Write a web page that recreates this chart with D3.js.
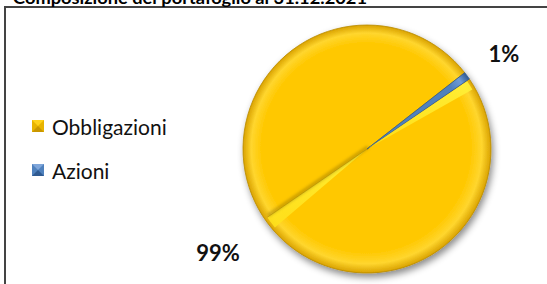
<!DOCTYPE html>
<html>
<head>
<meta charset="utf-8">
<script src="https://cdn.jsdelivr.net/npm/d3@7"></script>
<style>
  body { margin: 0; background: #fff; }
  svg { display: block; }
</style>
</head>
<body>
<div id="chart"></div>
<script>
const title = "Composizione del portafoglio al 31.12.2021";
const categories = ["Obbligazioni", "Azioni"];
const values = [99, 1];
const percentLabels = ["99%", "1%"];

const W = 547, H = 284;
const cx = 367, cy = 149, R = 124;
const firstAngle = 55.6 * Math.PI / 180;   // Excel "angle of first slice"

const svg = d3.select("#chart").append("svg")
    .attr("width", W).attr("height", H);

const defs = svg.append("defs");

// soft drop shadow under the pie
const shadow = defs.append("filter").attr("id", "shadow")
    .attr("x", "-20%").attr("y", "-20%").attr("width", "140%").attr("height", "140%");
shadow.append("feDropShadow")
    .attr("dx", 2).attr("dy", 4).attr("stdDeviation", 3.5)
    .attr("flood-color", "#000").attr("flood-opacity", 0.45);

const blur = defs.append("filter").attr("id", "blur");
blur.append("feGaussianBlur").attr("stdDeviation", 1.6);

// bevel-like radial gradients (coordinates local to the pie group)
function bevel(id, inner, rim, edge) {
    const g = defs.append("radialGradient").attr("id", id)
        .attr("gradientUnits", "userSpaceOnUse")
        .attr("cx", 0).attr("cy", 0).attr("r", R)
        .attr("fx", -6).attr("fy", -8);
    g.append("stop").attr("offset", "0%").attr("stop-color", inner);
    g.append("stop").attr("offset", "84%").attr("stop-color", inner);
    g.append("stop").attr("offset", "93%").attr("stop-color", rim);
    g.append("stop").attr("offset", "100%").attr("stop-color", edge);
}
bevel("gradYellow", "#FFC800", "#FFD62E", "#D9A200");
bevel("gradBlue", "#4F81BD", "#6E9BD6", "#2F5A91");

const band = defs.append("linearGradient").attr("id", "bandGrad")
    .attr("x1", "0").attr("y1", "0").attr("x2", "0").attr("y2", "1");
band.append("stop").attr("offset", "0%").attr("stop-color", "#FFF23A");
band.append("stop").attr("offset", "100%").attr("stop-color", "#FFE01A");

const colors = d3.scaleOrdinal().domain(categories).range(["url(#gradYellow)", "url(#gradBlue)"]);
const legendColors = d3.scaleOrdinal().domain(categories).range([["#E8B400", "#C99700", "#FFD21A"], ["#4F81BD", "#2F5A91", "#7FA6DA"]]);

// border frame (only top/left visible in the crop)
svg.append("path")
    .attr("d", `M5,${H + 2} V7 H${W + 2}`)
    .attr("fill", "none").attr("stroke", "#444").attr("stroke-width", 2);

// title, mostly cropped by the top edge as in the source
svg.append("text")
    .attr("x", 13).attr("y", 4)
    .attr("font-family", "Lato, sans-serif").attr("font-weight", "bold")
    .attr("font-size", 17)
    .attr("textLength", 354).attr("lengthAdjust", "spacingAndGlyphs")
    .text(title);

const pie = d3.pie().sort(null).value(d => d)
    .startAngle(firstAngle).endAngle(firstAngle + 2 * Math.PI);
const arcs = pie(values);
const arc = d3.arc().innerRadius(0).outerRadius(R);

const gPie = svg.append("g").attr("transform", `translate(${cx},${cy})`);

gPie.append("g").attr("filter", "url(#shadow)")
  .selectAll("path").data(arcs).join("path")
    .attr("d", arc)
    .attr("fill", (d, i) => colors(categories[i]))
    .attr("stroke", (d, i) => i === 0 ? "#B88A00" : "#2F5A91")
    .attr("stroke-width", 0.8);

// bevel highlights along the slice edges (Excel artifact)
const big = arcs[0];
const deg = Math.PI / 180;
const hlArc = d3.arc().innerRadius(0).outerRadius(R - 3);
gPie.append("path")
    .attr("d", hlArc({ startAngle: big.startAngle + 0.3 * deg, endAngle: big.startAngle + 5 * deg }))
    .attr("fill", "url(#bandGrad)").attr("opacity", 0.9);
gPie.append("path")
    .attr("d", hlArc({ startAngle: big.startAngle + Math.PI - 6 * deg, endAngle: big.startAngle + Math.PI }))
    .attr("fill", "url(#bandGrad)").attr("opacity", 0.9);

// dark crease along the opposite diameter
const a2 = big.startAngle + Math.PI;
gPie.append("line")
    .attr("x1", 0).attr("y1", 0)
    .attr("x2", Math.sin(a2) * (R - 3)).attr("y2", -Math.cos(a2) * (R - 3))
    .attr("stroke", "#8A6A00").attr("stroke-width", 3).attr("opacity", 0.5)
    .attr("filter", "url(#blur)")
    .attr("transform", "translate(1,-2)");
gPie.append("line")
    .attr("x1", 0).attr("y1", 0)
    .attr("x2", Math.sin(a2) * (R - 3)).attr("y2", -Math.cos(a2) * (R - 3))
    .attr("stroke", "#A07C00").attr("stroke-width", 0.8).attr("opacity", 0.6);

// percent labels
const labelPos = [[218, 252], [504, 53]];
svg.selectAll("text.pct").data(percentLabels).join("text")
    .attr("class", "pct")
    .attr("x", (d, i) => labelPos[i][0]).attr("y", (d, i) => labelPos[i][1])
    .attr("text-anchor", "middle").attr("dominant-baseline", "central")
    .attr("font-family", "Lato, sans-serif").attr("font-weight", "bold")
    .attr("font-size", 22).attr("fill", "#111")
    .text(d => d);

// legend
const legendY = d3.scalePoint().domain(categories).range([126, 170]);
const lg = svg.selectAll("g.legend").data(categories).join("g")
    .attr("class", "legend")
    .attr("transform", d => `translate(32,${legendY(d)})`);
lg.append("rect")
    .attr("x", 0).attr("y", -6).attr("width", 12).attr("height", 12)
    .attr("fill", d => legendColors(d)[0]);
lg.append("path")
    .attr("d", "M0,6 L6,0 L12,6 Z")
    .attr("fill", d => legendColors(d)[1]);
lg.append("path")
    .attr("d", "M0,-6 L6,0 L12,-6 Z")
    .attr("fill", d => legendColors(d)[2]);
lg.append("text")
    .attr("x", 20).attr("y", 0)
    .attr("dominant-baseline", "central")
    .attr("font-family", "Lato, sans-serif").attr("font-size", 21)
    .attr("fill", "#111")
    .text(d => d);
</script>
</body>
</html>
